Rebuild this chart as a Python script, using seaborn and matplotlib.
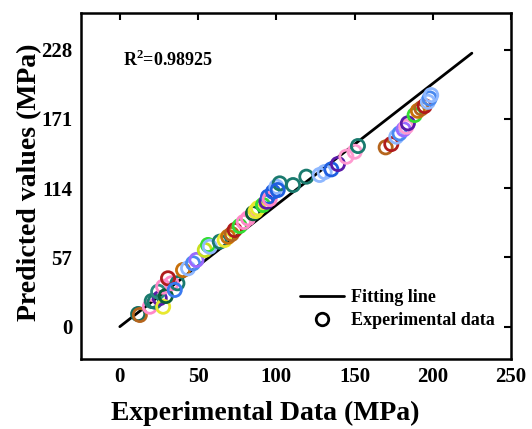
import matplotlib
matplotlib.use("Agg")
import matplotlib.pyplot as plt
import seaborn as sns
import pandas as pd
from matplotlib.lines import Line2D

sns.set_theme(style="white")
plt.rcParams["font.family"] = ["Liberation Serif", "DejaVu Serif"]
plt.rcParams["font.weight"] = "bold"
plt.rcParams["text.color"] = "black"
plt.rcParams["axes.labelcolor"] = "black"
plt.rcParams["xtick.color"] = "black"
plt.rcParams["ytick.color"] = "black"
plt.rcParams["mathtext.fontset"] = "custom"
plt.rcParams["mathtext.rm"] = "Liberation Serif:bold"
plt.rcParams["mathtext.bf"] = "Liberation Serif:bold"

# Measured strength vs model prediction (MPa)
experimental = [11.7, 12.8, 19.2, 20.4, 22.3, 25.5, 27.7, 24.5, 27.7, 29.4,
                33.0, 36.8, 30.8, 35.1, 40.4, 43.6, 46.8, 49.0, 54.3, 56.4,
                57.5, 63.9, 67.0, 69.2, 71.5, 73.4, 76.6, 79.2, 81.9, 85.1,
                86.8, 88.3, 91.5, 93.7, 94.7, 95.8, 97.9, 100.1, 102.2, 100.9,
                110.7, 119.2, 127.7, 130.9, 135.2, 139.4, 144.8, 150.1, 152.2, 169.9,
                173.5, 176.7, 178.8, 181.4, 183.1, 184.1, 188.4, 190.5, 192.7, 194.8,
                196.9, 198.0, 199.0]
predicted = [10.4, 9.6, 16.4, 21.1, 20.6, 23.4, 16.4, 28.8, 32.9, 25.2,
             35.7, 35.7, 39.8, 30.2, 46.6, 48.0, 52.1, 54.9, 63.1, 67.2,
             65.8, 69.9, 71.3, 74.0, 76.2, 79.5, 82.8, 86.1, 89.1, 93.3,
             95.1, 97.4, 100.1, 102.8, 106.9, 105.0, 111.0, 115.1, 117.9, 112.4,
             116.5, 123.4, 124.8, 127.2, 129.4, 133.8, 139.8, 143.9, 148.6, 147.5,
             150.2, 156.3, 159.0, 162.3, 164.5, 167.3, 174.1, 177.6, 179.6, 181.5,
             185.0, 187.8, 190.5]
point_colors = ["#146b5e", "#b5651d", "#ff88c8", "#1a7a6e", "#1a7a6e", "#5a1aa8", "#e8e830", "#2a8a80", "#ff88c8", "#0b5e3a",
                "#ff88c8", "#1a7a6e", "#b01c1c", "#3a7af0", "#c8700a", "#8fb8ff", "#4a8af0", "#9a6aff", "#c8e020", "#33dd33",
                "#8fb8ff", "#1a7a6e", "#e8e830", "#c8700a", "#b5651d", "#b01c1c", "#33dd33", "#ff88c8", "#ff88c8", "#0b5e3a",
                "#e8e830", "#e8e830", "#33dd33", "#5a1aa8", "#1f5fe0", "#ff88c8", "#1f5fe0", "#8fb8ff", "#1a7a6e", "#1f5fe0",
                "#1a7a6e", "#1a7a6e", "#8fb8ff", "#8fb8ff", "#1f5fe0", "#5a1aa8", "#ff9ad0", "#ff9ad0", "#1a7a6e", "#b5651d",
                "#b01c1c", "#8fb8ff", "#4a8af0", "#9a6aff", "#ff9ad0", "#5a1aa8", "#33dd33", "#c8700a", "#b5651d", "#b01c1c",
                "#8fb8ff", "#4a8af0", "#8fb8ff"]

fit_x = [0, 225]
fit_y = [0, 225]

x_ticks = [0, 50, 100, 150, 200, 250]
y_ticks = [0, 57, 114, 171, 228]

df = pd.DataFrame({"exp": experimental, "pred": predicted, "idx": range(len(experimental))})

fig = plt.figure(figsize=(5.32, 4.29), dpi=100)
ax = fig.add_axes([0.1517, 0.1632, 0.8088, 0.8072])

sns.lineplot(x=fit_x, y=fit_y, ax=ax, color="black", linewidth=2.0, zorder=1)
sns.scatterplot(data=df, x="exp", y="pred", hue="idx", palette=point_colors,
                s=90, marker="o", linewidth=2.0, legend=False, ax=ax, zorder=2)
pts = ax.collections[-1]
pts.set_edgecolors(pts.get_facecolors())
pts.set_facecolors("none")

ax.set_xlim(-25, 250)
ax.set_ylim(-26.6, 258.3)
ax.set_xticks(x_ticks)
ax.set_yticks(y_ticks)
ax.tick_params(direction="in", length=5, width=1.5, top=True, right=True,
               labelsize=15, pad=6)
for lab in ax.get_xticklabels() + ax.get_yticklabels():
    lab.set_fontweight("bold")
for sp in ax.spines.values():
    sp.set_linewidth(1.8)
    sp.set_color("black")

ax.set_xlabel("Experimental Data (MPa)", fontsize=20, fontweight="bold")
ax.xaxis.set_label_coords(0.428, -0.12)
ax.set_ylabel("Predicted values (MPa)", fontsize=20, fontweight="bold")
ax.yaxis.set_label_coords(-0.09, 0.51)

ax.text(0.098, 0.863, r"R$^{2}$=0.98925", transform=ax.transAxes,
        fontsize=13, fontweight="bold", va="center", ha="left")

handles = [Line2D([], [], color="black", linewidth=2.0),
           Line2D([], [], color="black", marker="o", linestyle="none",
                  markerfacecolor="none", markeredgewidth=2.0, markersize=9)]
ax.legend(handles, ["Fitting line", "Experimental data"], loc="lower right",
          bbox_to_anchor=(1.0, 0.04), frameon=False, handlelength=2.4,
          prop={"weight": "bold", "size": 13}, labelspacing=0.3, handletextpad=0.4)

fig.savefig("out.png", dpi=100)
